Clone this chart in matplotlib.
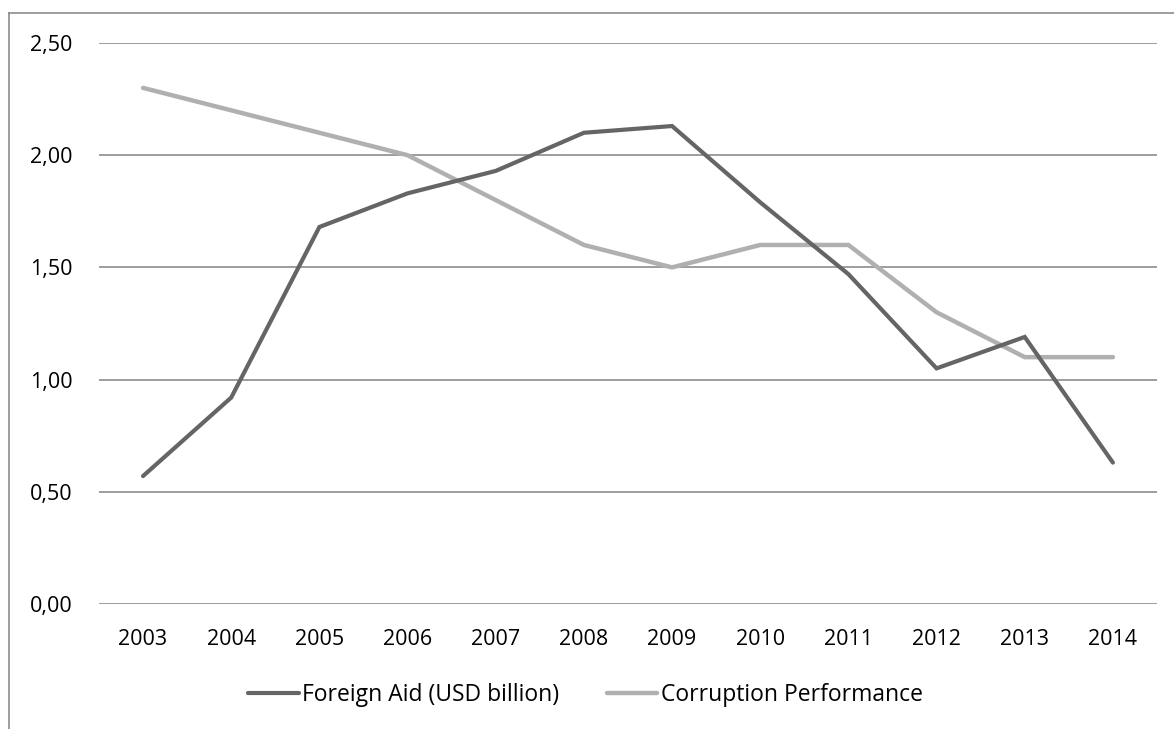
import matplotlib.pyplot as plt
from matplotlib.lines import Line2D
from matplotlib.ticker import FuncFormatter, MultipleLocator

# data
years = ['2003', '2004', '2005', '2006', '2007', '2008',
         '2009', '2010', '2011', '2012', '2013', '2014']
foreign_aid = [0.57, 0.92, 1.68, 1.83, 1.93, 2.10, 2.13, 1.79, 1.47, 1.05, 1.19, 0.63]
corruption = [2.30, 2.20, 2.10, 2.00, 1.80, 1.60, 1.50, 1.60, 1.60, 1.30, 1.10, 1.10]

plt.rcParams['font.family'] = ['Open Sans', 'DejaVu Sans']

fig = plt.figure(figsize=(11.74, 7.29), dpi=100)
ax = fig.add_axes([0.0843, 0.1715, 0.9012, 0.7695])

x = range(len(years))
ax.plot(x, foreign_aid, color='#656565', lw=3.0, solid_capstyle='round',
        solid_joinstyle='miter', label='Foreign Aid (USD billion)', zorder=3)
ax.plot(x, corruption, color='#b0b0b0', lw=3.2, solid_capstyle='round',
        solid_joinstyle='miter', label='Corruption Performance', zorder=2)

ax.set_xlim(-0.5, len(years) - 0.5)
ax.set_ylim(0, 2.5)
ax.set_xticks(list(x))
ax.set_xticklabels(years)
ax.yaxis.set_major_locator(MultipleLocator(0.5))
ax.yaxis.set_major_formatter(FuncFormatter(lambda v, p: f'{v:.2f}'.replace('.', ',')))

ax.grid(axis='y', color='#8c8c8c', lw=1.2)
ax.set_axisbelow(True)
for s in ax.spines.values():
    s.set_visible(False)
ax.tick_params(length=0, labelsize=15.5, colors='black')
ax.tick_params(axis='y', pad=19)
ax.tick_params(axis='x', pad=18)

ax.legend(loc='center', bbox_to_anchor=(0.4987, 0.047), bbox_transform=fig.transFigure,
          ncol=2, frameon=False, fontsize=16.5, handlelength=2.2,
          handletextpad=0.17, columnspacing=2.05)

# outer chart border (only top and left visible in the reference)
fig.add_artist(Line2D([9 / 1174, 1.0], [1 - 13 / 729, 1 - 13 / 729],
                      transform=fig.transFigure, color='#8c8c8c', lw=1.2))
fig.add_artist(Line2D([9 / 1174, 9 / 1174], [0.0, 1 - 13 / 729],
                      transform=fig.transFigure, color='#8c8c8c', lw=1.2))

fig.savefig('out.png', dpi=100)
